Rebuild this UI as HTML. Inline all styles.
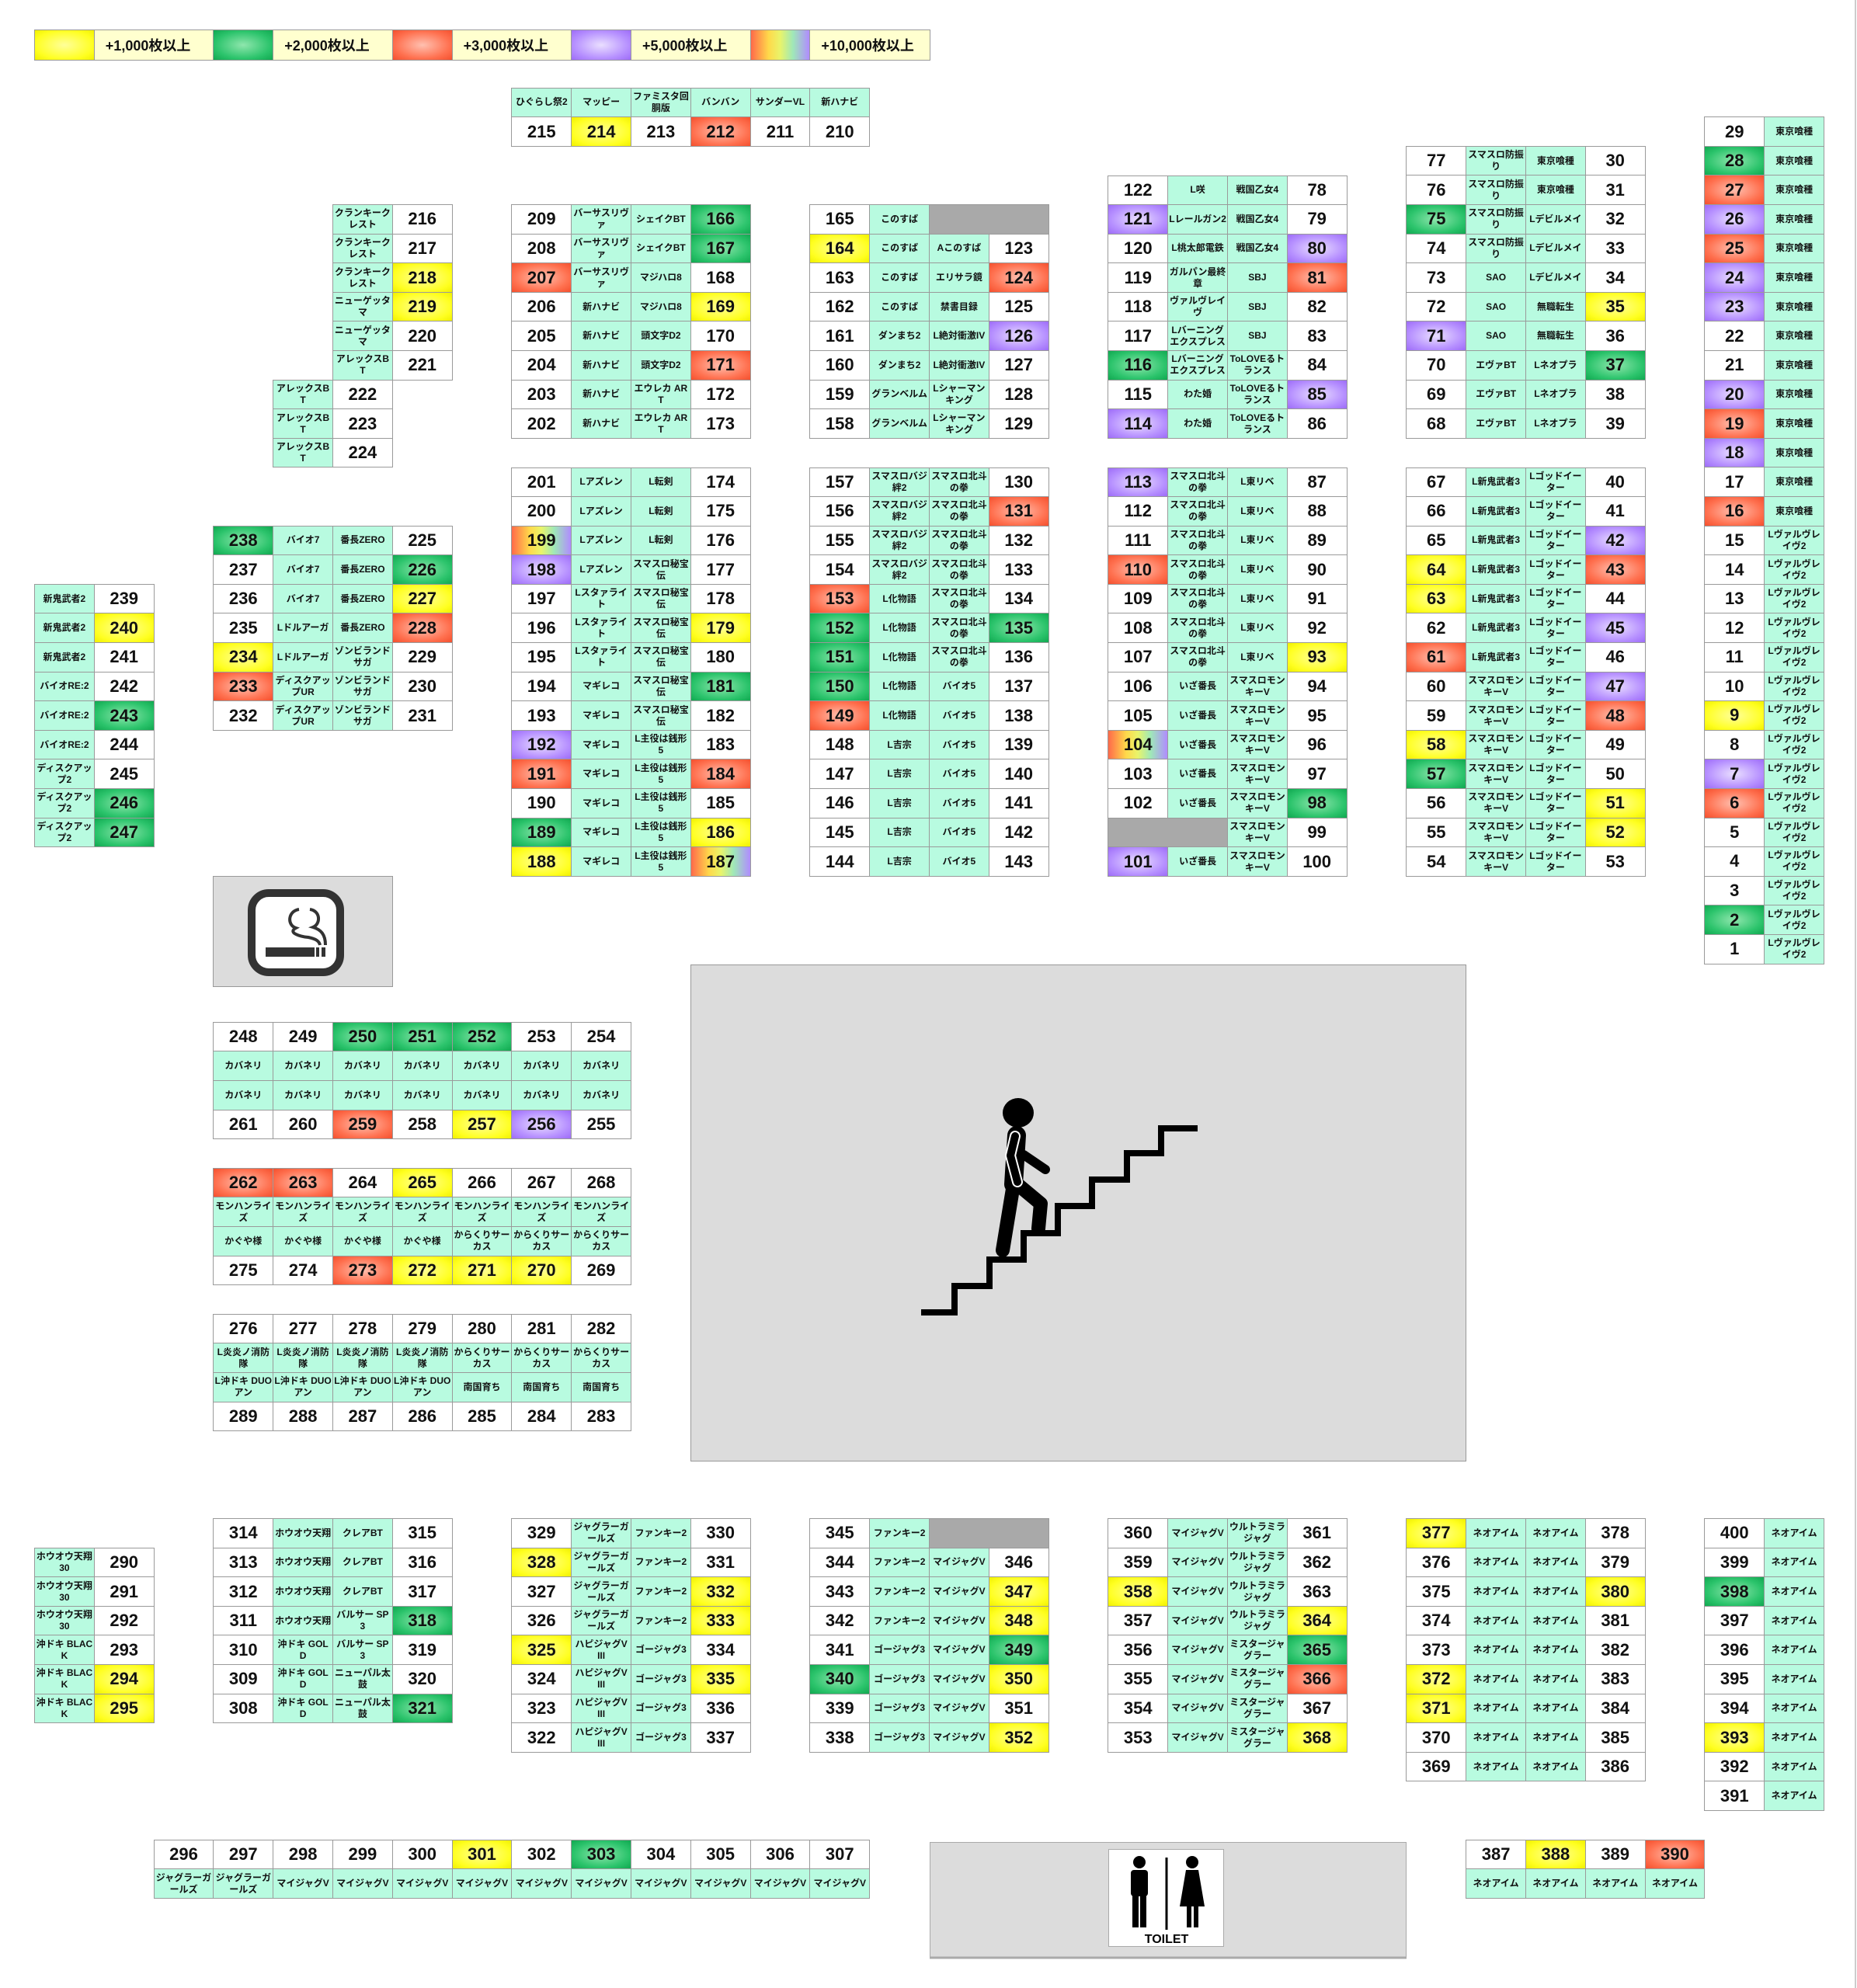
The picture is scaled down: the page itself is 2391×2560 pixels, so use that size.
<!DOCTYPE html>
<html><head><meta charset="utf-8">
<style>
html,body{margin:0;padding:0;background:#fff}
body{width:2391px;height:2560px;position:relative;overflow:hidden;font-family:"Liberation Sans","Noto Sans CJK JP",sans-serif;color:#111}
.b{position:absolute;display:grid;grid-auto-rows:37.6px;border-top:1px solid #9a9a9a;border-left:1px solid #9a9a9a}
.c2{grid-template-columns:repeat(2,76.8px)}
.c4{grid-template-columns:repeat(4,76.8px)}
.c6{grid-template-columns:repeat(6,76.8px)}
.c7{grid-template-columns:repeat(7,76.8px)}
.c12{grid-template-columns:repeat(12,76.8px)}
.b>*{border-right:1px solid #9a9a9a;border-bottom:1px solid #9a9a9a;display:flex;align-items:center;justify-content:center;text-align:center;text-decoration:none;font-style:normal;overflow:hidden;box-sizing:border-box}
b{font-size:22px;background:#fff;font-weight:bold}
s{font-size:12px;background:#b8fbe0;line-height:15px;word-break:break-all;font-weight:bold;padding:0 1px}
u{background:#a9a9a9;grid-column:span 2}
.y{background:radial-gradient(ellipse at center,#ffff9a 0%,#ffff20 70%,#f0f000 100%)}
.g{background:radial-gradient(ellipse at center,#8fe6ad 0%,#2cc46c 65%,#10a850 100%)}
.r{background:radial-gradient(ellipse at center,#ffc0b0 0%,#ff7150 65%,#f4502e 100%)}
.p{background:radial-gradient(ellipse at center,#eadfff 0%,#b690ff 65%,#9d6cf7 100%)}
.w{background:linear-gradient(90deg,#ff6a4a 0%,#ffd84a 30%,#e9f46a 50%,#9fe8b8 72%,#b08cff 100%)}
.lg{position:absolute;left:44px;top:37.5px;display:grid;grid-template-columns:76.8px 153.6px 76.8px 153.6px 76.8px 153.6px 76.8px 153.6px 76.8px 153.6px;grid-auto-rows:38px;border:1px solid #999}
.lg>div{border-right:1px solid #999}
.lt{background:#ffffcf;font-size:18px;font-weight:bold;display:flex;align-items:center;padding-left:14px}
</style></head><body>

<svg width="2391" height="2560" style="position:absolute;left:0;top:0">
<line x1="2389" y1="0" x2="2389" y2="2560" stroke="#ccc" stroke-width="2"/>
<!-- smoking -->
<rect x="274.5" y="1128.5" width="231" height="142" fill="#dcdcdc" stroke="#999"/>
<rect x="324" y="1150" width="114" height="102" rx="22" fill="#fff" stroke="#333" stroke-width="10"/>
<rect x="342" y="1220" width="63" height="12" fill="#333"/>
<rect x="407" y="1220" width="4" height="12" fill="#333"/>
<rect x="414" y="1220" width="5" height="12" fill="#333"/>
<path d="M385 1171 C371 1173 369 1191 381 1195 C370 1201 386 1206 397 1207 C407 1209 411 1212 412 1217" fill="none" stroke="#333" stroke-width="4"/>
<path d="M399 1171 C413 1173 413 1190 403 1194 C413 1197 419 1203 419 1217" fill="none" stroke="#333" stroke-width="4"/>
<!-- stairs -->
<rect x="889.5" y="1242.5" width="998" height="639" fill="#dcdcdc" stroke="#999"/>
<polyline points="1186,1690 1229,1690 1229,1656 1274,1656 1274,1622 1318,1622 1318,1588 1362,1588 1362,1553 1406,1553 1406,1519 1451,1519 1451,1485 1495,1485 1495,1453 1542,1453" fill="none" stroke="#000" stroke-width="8"/>
<ellipse cx="1311" cy="1433" rx="20" ry="19" fill="#000"/>
<line x1="1309" y1="1462" x2="1305" y2="1525" stroke="#000" stroke-width="24" stroke-linecap="round"/>
<line x1="1305" y1="1525" x2="1291" y2="1610" stroke="#000" stroke-width="18" stroke-linecap="round"/>
<polyline points="1310,1525 1340,1550 1337,1582" fill="none" stroke="#000" stroke-width="18" stroke-linecap="round" stroke-linejoin="round"/>
<line x1="1318" y1="1487" x2="1346" y2="1506" stroke="#000" stroke-width="12" stroke-linecap="round"/>
<polyline points="1307,1463 1301,1488 1310,1522" fill="none" stroke="#fff" stroke-width="14" stroke-linecap="round" stroke-linejoin="round"/>
<polyline points="1307,1463 1301,1488 1310,1522" fill="none" stroke="#000" stroke-width="10" stroke-linecap="round" stroke-linejoin="round"/>
<!-- toilet -->
<rect x="1197.5" y="2372.5" width="613" height="149" fill="#dcdcdc" stroke="#aaa"/>
<line x1="1197" y1="2521" x2="1811" y2="2521" stroke="#aaa" stroke-width="3"/>
<rect x="1427.5" y="2381.5" width="148" height="125" fill="#fff" stroke="#aaa"/>
<circle cx="1467" cy="2398" r="8" fill="#000"/>
<rect x="1456" y="2408" width="22" height="34" rx="4" fill="#000"/>
<rect x="1458" y="2440" width="8" height="42" fill="#000"/>
<rect x="1468" y="2440" width="8" height="42" fill="#000"/>
<line x1="1502" y1="2392" x2="1502" y2="2485" stroke="#000" stroke-width="3"/>
<circle cx="1535" cy="2398" r="8" fill="#000"/>
<polygon points="1527,2408 1543,2408 1551,2455 1519,2455" fill="#000"/>
<rect x="1528" y="2455" width="6" height="27" fill="#000"/>
<rect x="1537" y="2455" width="6" height="27" fill="#000"/>
<text x="1502" y="2502" font-family="Liberation Sans, sans-serif" font-weight="bold" font-size="16" text-anchor="middle">TOILET</text>
</svg>

<div class="lg">
<div class="y"></div><div class="lt">+1,000枚以上</div>
<div class="g"></div><div class="lt">+2,000枚以上</div>
<div class="r"></div><div class="lt">+3,000枚以上</div>
<div class="p"></div><div class="lt">+5,000枚以上</div>
<div class="w"></div><div class="lt" style="border-right:none">+10,000枚以上</div>
</div>

<div class="b c6" style="left:658.4px;top:112.7px">
<s>ひぐらし祭2</s><s>マッピー</s><s>ファミスタ回胴版</s><s>バンバン</s><s>サンダーVL</s><s>新ハナビ</s>
<b>215</b><b class="y">214</b><b>213</b><b class="r">212</b><b>211</b><b>210</b>
</div>

<div class="b c2" style="left:428px;top:263.1px">
<s>クランキークレスト</s><b>216</b>
<s>クランキークレスト</s><b>217</b>
<s>クランキークレスト</s><b class="y">218</b>
<s>ニューゲッタマ</s><b class="y">219</b>
<s>ニューゲッタマ</s><b>220</b>
<s>アレックスBT</s><b>221</b>
</div>
<div class="b c2" style="left:351.2px;top:488.7px">
<s>アレックスBT</s><b>222</b>
<s>アレックスBT</s><b>223</b>
<s>アレックスBT</s><b>224</b>
</div>

<div class="b c4" style="left:658.4px;top:263.1px">
<b>209</b><s>バーサスリヴァ</s><s>シェイクBT</s><b class="g">166</b>
<b>208</b><s>バーサスリヴァ</s><s>シェイクBT</s><b class="g">167</b>
<b class="r">207</b><s>バーサスリヴァ</s><s>マジハロ8</s><b>168</b>
<b>206</b><s>新ハナビ</s><s>マジハロ8</s><b class="y">169</b>
<b>205</b><s>新ハナビ</s><s>頭文字D2</s><b>170</b>
<b>204</b><s>新ハナビ</s><s>頭文字D2</s><b class="r">171</b>
<b>203</b><s>新ハナビ</s><s>エウレカ ART</s><b>172</b>
<b>202</b><s>新ハナビ</s><s>エウレカ ART</s><b>173</b>
</div>

<div class="b c4" style="left:1042.4px;top:263.1px">
<b>165</b><s>このすば</s><u></u>
<b class="y">164</b><s>このすば</s><s>Aこのすば</s><b>123</b>
<b>163</b><s>このすば</s><s>エリサラ鏡</s><b class="r">124</b>
<b>162</b><s>このすば</s><s>禁書目録</s><b>125</b>
<b>161</b><s>ダンまち2</s><s>L絶対衝激IV</s><b class="p">126</b>
<b>160</b><s>ダンまち2</s><s>L絶対衝激IV</s><b>127</b>
<b>159</b><s>グランベルム</s><s>Lシャーマンキング</s><b>128</b>
<b>158</b><s>グランベルム</s><s>Lシャーマンキング</s><b>129</b>
</div>

<div class="b c4" style="left:1426.4px;top:225.5px">
<b>122</b><s>L咲</s><s>戦国乙女4</s><b>78</b>
<b class="p">121</b><s>Lレールガン2</s><s>戦国乙女4</s><b>79</b>
<b>120</b><s>L桃太郎電鉄</s><s>戦国乙女4</s><b class="p">80</b>
<b>119</b><s>ガルパン最終章</s><s>SBJ</s><b class="r">81</b>
<b>118</b><s>ヴァルヴレイヴ</s><s>SBJ</s><b>82</b>
<b>117</b><s>Lバーニングエクスプレス</s><s>SBJ</s><b>83</b>
<b class="g">116</b><s>Lバーニングエクスプレス</s><s>ToLOVEるトランス</s><b>84</b>
<b>115</b><s>わた婚</s><s>ToLOVEるトランス</s><b class="p">85</b>
<b class="p">114</b><s>わた婚</s><s>ToLOVEるトランス</s><b>86</b>
</div>

<div class="b c4" style="left:1810.4px;top:187.9px">
<b>77</b><s>スマスロ防振り</s><s>東京喰種</s><b>30</b>
<b>76</b><s>スマスロ防振り</s><s>東京喰種</s><b>31</b>
<b class="g">75</b><s>スマスロ防振り</s><s>Lデビルメイ</s><b>32</b>
<b>74</b><s>スマスロ防振り</s><s>Lデビルメイ</s><b>33</b>
<b>73</b><s>SAO</s><s>Lデビルメイ</s><b>34</b>
<b>72</b><s>SAO</s><s>無職転生</s><b class="y">35</b>
<b class="p">71</b><s>SAO</s><s>無職転生</s><b>36</b>
<b>70</b><s>エヴァBT</s><s>Lネオプラ</s><b class="g">37</b>
<b>69</b><s>エヴァBT</s><s>Lネオプラ</s><b>38</b>
<b>68</b><s>エヴァBT</s><s>Lネオプラ</s><b>39</b>
</div>

<div class="b c2" style="left:2194.4px;top:150.3px">
<b>29</b><s>東京喰種</s>
<b class="g">28</b><s>東京喰種</s>
<b class="r">27</b><s>東京喰種</s>
<b class="p">26</b><s>東京喰種</s>
<b class="r">25</b><s>東京喰種</s>
<b class="p">24</b><s>東京喰種</s>
<b class="p">23</b><s>東京喰種</s>
<b>22</b><s>東京喰種</s>
<b>21</b><s>東京喰種</s>
<b class="p">20</b><s>東京喰種</s>
<b class="r">19</b><s>東京喰種</s>
<b class="p">18</b><s>東京喰種</s>
<b>17</b><s>東京喰種</s>
<b class="r">16</b><s>東京喰種</s>
<b>15</b><s>Lヴァルヴレイヴ2</s>
<b>14</b><s>Lヴァルヴレイヴ2</s>
<b>13</b><s>Lヴァルヴレイヴ2</s>
<b>12</b><s>Lヴァルヴレイヴ2</s>
<b>11</b><s>Lヴァルヴレイヴ2</s>
<b>10</b><s>Lヴァルヴレイヴ2</s>
<b class="y">9</b><s>Lヴァルヴレイヴ2</s>
<b>8</b><s>Lヴァルヴレイヴ2</s>
<b class="p">7</b><s>Lヴァルヴレイヴ2</s>
<b class="r">6</b><s>Lヴァルヴレイヴ2</s>
<b>5</b><s>Lヴァルヴレイヴ2</s>
<b>4</b><s>Lヴァルヴレイヴ2</s>
<b>3</b><s>Lヴァルヴレイヴ2</s>
<b class="g">2</b><s>Lヴァルヴレイヴ2</s>
<b>1</b><s>Lヴァルヴレイヴ2</s>
</div>

<div class="b c4" style="left:658.4px;top:601.5px">
<b>201</b><s>Lアズレン</s><s>L転剣</s><b>174</b>
<b>200</b><s>Lアズレン</s><s>L転剣</s><b>175</b>
<b class="w">199</b><s>Lアズレン</s><s>L転剣</s><b>176</b>
<b class="p">198</b><s>Lアズレン</s><s>スマスロ秘宝伝</s><b>177</b>
<b>197</b><s>Lスタァライト</s><s>スマスロ秘宝伝</s><b>178</b>
<b>196</b><s>Lスタァライト</s><s>スマスロ秘宝伝</s><b class="y">179</b>
<b>195</b><s>Lスタァライト</s><s>スマスロ秘宝伝</s><b>180</b>
<b>194</b><s>マギレコ</s><s>スマスロ秘宝伝</s><b class="g">181</b>
<b>193</b><s>マギレコ</s><s>スマスロ秘宝伝</s><b>182</b>
<b class="p">192</b><s>マギレコ</s><s>L主役は銭形5</s><b>183</b>
<b class="r">191</b><s>マギレコ</s><s>L主役は銭形5</s><b class="r">184</b>
<b>190</b><s>マギレコ</s><s>L主役は銭形5</s><b>185</b>
<b class="g">189</b><s>マギレコ</s><s>L主役は銭形5</s><b class="y">186</b>
<b class="y">188</b><s>マギレコ</s><s>L主役は銭形5</s><b class="w">187</b>
</div>

<div class="b c4" style="left:1042.4px;top:601.5px">
<b>157</b><s>スマスロバジ絆2</s><s>スマスロ北斗の拳</s><b>130</b>
<b>156</b><s>スマスロバジ絆2</s><s>スマスロ北斗の拳</s><b class="r">131</b>
<b>155</b><s>スマスロバジ絆2</s><s>スマスロ北斗の拳</s><b>132</b>
<b>154</b><s>スマスロバジ絆2</s><s>スマスロ北斗の拳</s><b>133</b>
<b class="r">153</b><s>L化物語</s><s>スマスロ北斗の拳</s><b>134</b>
<b class="g">152</b><s>L化物語</s><s>スマスロ北斗の拳</s><b class="g">135</b>
<b class="g">151</b><s>L化物語</s><s>スマスロ北斗の拳</s><b>136</b>
<b class="g">150</b><s>L化物語</s><s>バイオ5</s><b>137</b>
<b class="r">149</b><s>L化物語</s><s>バイオ5</s><b>138</b>
<b>148</b><s>L吉宗</s><s>バイオ5</s><b>139</b>
<b>147</b><s>L吉宗</s><s>バイオ5</s><b>140</b>
<b>146</b><s>L吉宗</s><s>バイオ5</s><b>141</b>
<b>145</b><s>L吉宗</s><s>バイオ5</s><b>142</b>
<b>144</b><s>L吉宗</s><s>バイオ5</s><b>143</b>
</div>

<div class="b c4" style="left:1426.4px;top:601.5px">
<b class="p">113</b><s>スマスロ北斗の拳</s><s>L東リベ</s><b>87</b>
<b>112</b><s>スマスロ北斗の拳</s><s>L東リベ</s><b>88</b>
<b>111</b><s>スマスロ北斗の拳</s><s>L東リベ</s><b>89</b>
<b class="r">110</b><s>スマスロ北斗の拳</s><s>L東リベ</s><b>90</b>
<b>109</b><s>スマスロ北斗の拳</s><s>L東リベ</s><b>91</b>
<b>108</b><s>スマスロ北斗の拳</s><s>L東リベ</s><b>92</b>
<b>107</b><s>スマスロ北斗の拳</s><s>L東リベ</s><b class="y">93</b>
<b>106</b><s>いざ番長</s><s>スマスロモンキーV</s><b>94</b>
<b>105</b><s>いざ番長</s><s>スマスロモンキーV</s><b>95</b>
<b class="w">104</b><s>いざ番長</s><s>スマスロモンキーV</s><b>96</b>
<b>103</b><s>いざ番長</s><s>スマスロモンキーV</s><b>97</b>
<b>102</b><s>いざ番長</s><s>スマスロモンキーV</s><b class="g">98</b>
<u></u><s>スマスロモンキーV</s><b>99</b>
<b class="p">101</b><s>いざ番長</s><s>スマスロモンキーV</s><b>100</b>
</div>

<div class="b c4" style="left:1810.4px;top:601.5px">
<b>67</b><s>L新鬼武者3</s><s>Lゴッドイーター</s><b>40</b>
<b>66</b><s>L新鬼武者3</s><s>Lゴッドイーター</s><b>41</b>
<b>65</b><s>L新鬼武者3</s><s>Lゴッドイーター</s><b class="p">42</b>
<b class="y">64</b><s>L新鬼武者3</s><s>Lゴッドイーター</s><b class="r">43</b>
<b class="y">63</b><s>L新鬼武者3</s><s>Lゴッドイーター</s><b>44</b>
<b>62</b><s>L新鬼武者3</s><s>Lゴッドイーター</s><b class="p">45</b>
<b class="r">61</b><s>L新鬼武者3</s><s>Lゴッドイーター</s><b>46</b>
<b>60</b><s>スマスロモンキーV</s><s>Lゴッドイーター</s><b class="p">47</b>
<b>59</b><s>スマスロモンキーV</s><s>Lゴッドイーター</s><b class="r">48</b>
<b class="y">58</b><s>スマスロモンキーV</s><s>Lゴッドイーター</s><b>49</b>
<b class="g">57</b><s>スマスロモンキーV</s><s>Lゴッドイーター</s><b>50</b>
<b>56</b><s>スマスロモンキーV</s><s>Lゴッドイーター</s><b class="y">51</b>
<b>55</b><s>スマスロモンキーV</s><s>Lゴッドイーター</s><b class="y">52</b>
<b>54</b><s>スマスロモンキーV</s><s>Lゴッドイーター</s><b>53</b>
</div>

<div class="b c4" style="left:274.4px;top:676.7px">
<b class="g">238</b><s>バイオ7</s><s>番長ZERO</s><b>225</b>
<b>237</b><s>バイオ7</s><s>番長ZERO</s><b class="g">226</b>
<b>236</b><s>バイオ7</s><s>番長ZERO</s><b class="y">227</b>
<b>235</b><s>Lドルアーガ</s><s>番長ZERO</s><b class="r">228</b>
<b class="y">234</b><s>Lドルアーガ</s><s>ゾンビランドサガ</s><b>229</b>
<b class="r">233</b><s>ディスクアップUR</s><s>ゾンビランドサガ</s><b>230</b>
<b>232</b><s>ディスクアップUR</s><s>ゾンビランドサガ</s><b>231</b>
</div>

<div class="b c2" style="left:44px;top:751.9px">
<s>新鬼武者2</s><b>239</b>
<s>新鬼武者2</s><b class="y">240</b>
<s>新鬼武者2</s><b>241</b>
<s>バイオRE:2</s><b>242</b>
<s>バイオRE:2</s><b class="g">243</b>
<s>バイオRE:2</s><b>244</b>
<s>ディスクアップ2</s><b>245</b>
<s>ディスクアップ2</s><b class="g">246</b>
<s>ディスクアップ2</s><b class="g">247</b>
</div>

<div class="b c7" style="left:274.4px;top:1315.9px">
<b>248</b><b>249</b><b class="g">250</b><b class="g">251</b><b class="g">252</b><b>253</b><b>254</b>
<s>カバネリ</s><s>カバネリ</s><s>カバネリ</s><s>カバネリ</s><s>カバネリ</s><s>カバネリ</s><s>カバネリ</s>
<s>カバネリ</s><s>カバネリ</s><s>カバネリ</s><s>カバネリ</s><s>カバネリ</s><s>カバネリ</s><s>カバネリ</s>
<b>261</b><b>260</b><b class="r">259</b><b>258</b><b class="y">257</b><b class="p">256</b><b>255</b>
</div>

<div class="b c7" style="left:274.4px;top:1503.9px">
<b class="r">262</b><b class="r">263</b><b>264</b><b class="y">265</b><b>266</b><b>267</b><b>268</b>
<s>モンハンライズ</s><s>モンハンライズ</s><s>モンハンライズ</s><s>モンハンライズ</s><s>モンハンライズ</s><s>モンハンライズ</s><s>モンハンライズ</s>
<s>かぐや様</s><s>かぐや様</s><s>かぐや様</s><s>かぐや様</s><s>からくりサーカス</s><s>からくりサーカス</s><s>からくりサーカス</s>
<b>275</b><b>274</b><b class="r">273</b><b class="y">272</b><b class="y">271</b><b class="y">270</b><b>269</b>
</div>

<div class="b c7" style="left:274.4px;top:1691.9px">
<b>276</b><b>277</b><b>278</b><b>279</b><b>280</b><b>281</b><b>282</b>
<s>L炎炎ノ消防隊</s><s>L炎炎ノ消防隊</s><s>L炎炎ノ消防隊</s><s>L炎炎ノ消防隊</s><s>からくりサーカス</s><s>からくりサーカス</s><s>からくりサーカス</s>
<s>L沖ドキ DUOアン</s><s>L沖ドキ DUOアン</s><s>L沖ドキ DUOアン</s><s>L沖ドキ DUOアン</s><s>南国育ち</s><s>南国育ち</s><s>南国育ち</s>
<b>289</b><b>288</b><b>287</b><b>286</b><b>285</b><b>284</b><b>283</b>
</div>

<div class="b c2" style="left:44px;top:1992.7px">
<s>ホウオウ天翔30</s><b>290</b>
<s>ホウオウ天翔30</s><b>291</b>
<s>ホウオウ天翔30</s><b>292</b>
<s>沖ドキ BLACK</s><b>293</b>
<s>沖ドキ BLACK</s><b class="y">294</b>
<s>沖ドキ BLACK</s><b class="y">295</b>
</div>

<div class="b c4" style="left:274.4px;top:1955.1px">
<b>314</b><s>ホウオウ天翔</s><s>クレアBT</s><b>315</b>
<b>313</b><s>ホウオウ天翔</s><s>クレアBT</s><b>316</b>
<b>312</b><s>ホウオウ天翔</s><s>クレアBT</s><b>317</b>
<b>311</b><s>ホウオウ天翔</s><s>バルサー SP3</s><b class="g">318</b>
<b>310</b><s>沖ドキ GOLD</s><s>バルサー SP3</s><b>319</b>
<b>309</b><s>沖ドキ GOLD</s><s>ニューパル太鼓</s><b>320</b>
<b>308</b><s>沖ドキ GOLD</s><s>ニューパル太鼓</s><b class="g">321</b>
</div>

<div class="b c4" style="left:658.4px;top:1955.1px">
<b>329</b><s>ジャグラーガールズ</s><s>ファンキー2</s><b>330</b>
<b class="y">328</b><s>ジャグラーガールズ</s><s>ファンキー2</s><b>331</b>
<b>327</b><s>ジャグラーガールズ</s><s>ファンキー2</s><b class="y">332</b>
<b>326</b><s>ジャグラーガールズ</s><s>ファンキー2</s><b class="y">333</b>
<b class="y">325</b><s>ハピジャグV III</s><s>ゴージャグ3</s><b>334</b>
<b>324</b><s>ハピジャグV III</s><s>ゴージャグ3</s><b class="y">335</b>
<b>323</b><s>ハピジャグV III</s><s>ゴージャグ3</s><b>336</b>
<b>322</b><s>ハピジャグV III</s><s>ゴージャグ3</s><b>337</b>
</div>

<div class="b c4" style="left:1042.4px;top:1955.1px">
<b>345</b><s>ファンキー2</s><u></u>
<b>344</b><s>ファンキー2</s><s>マイジャグV</s><b>346</b>
<b>343</b><s>ファンキー2</s><s>マイジャグV</s><b class="y">347</b>
<b>342</b><s>ファンキー2</s><s>マイジャグV</s><b class="y">348</b>
<b>341</b><s>ゴージャグ3</s><s>マイジャグV</s><b class="g">349</b>
<b class="g">340</b><s>ゴージャグ3</s><s>マイジャグV</s><b class="y">350</b>
<b>339</b><s>ゴージャグ3</s><s>マイジャグV</s><b>351</b>
<b>338</b><s>ゴージャグ3</s><s>マイジャグV</s><b class="y">352</b>
</div>

<div class="b c4" style="left:1426.4px;top:1955.1px">
<b>360</b><s>マイジャグV</s><s>ウルトラミラジャグ</s><b>361</b>
<b>359</b><s>マイジャグV</s><s>ウルトラミラジャグ</s><b>362</b>
<b class="y">358</b><s>マイジャグV</s><s>ウルトラミラジャグ</s><b>363</b>
<b>357</b><s>マイジャグV</s><s>ウルトラミラジャグ</s><b class="y">364</b>
<b>356</b><s>マイジャグV</s><s>ミスタージャグラー</s><b class="g">365</b>
<b>355</b><s>マイジャグV</s><s>ミスタージャグラー</s><b class="r">366</b>
<b>354</b><s>マイジャグV</s><s>ミスタージャグラー</s><b>367</b>
<b>353</b><s>マイジャグV</s><s>ミスタージャグラー</s><b class="y">368</b>
</div>

<div class="b c4" style="left:1810.4px;top:1955.1px">
<b class="y">377</b><s>ネオアイム</s><s>ネオアイム</s><b>378</b>
<b>376</b><s>ネオアイム</s><s>ネオアイム</s><b>379</b>
<b>375</b><s>ネオアイム</s><s>ネオアイム</s><b class="y">380</b>
<b>374</b><s>ネオアイム</s><s>ネオアイム</s><b>381</b>
<b>373</b><s>ネオアイム</s><s>ネオアイム</s><b>382</b>
<b class="y">372</b><s>ネオアイム</s><s>ネオアイム</s><b>383</b>
<b class="y">371</b><s>ネオアイム</s><s>ネオアイム</s><b>384</b>
<b>370</b><s>ネオアイム</s><s>ネオアイム</s><b>385</b>
<b>369</b><s>ネオアイム</s><s>ネオアイム</s><b>386</b>
</div>

<div class="b c2" style="left:2194.4px;top:1955.1px">
<b>400</b><s>ネオアイム</s>
<b>399</b><s>ネオアイム</s>
<b class="g">398</b><s>ネオアイム</s>
<b>397</b><s>ネオアイム</s>
<b>396</b><s>ネオアイム</s>
<b>395</b><s>ネオアイム</s>
<b>394</b><s>ネオアイム</s>
<b class="y">393</b><s>ネオアイム</s>
<b>392</b><s>ネオアイム</s>
<b>391</b><s>ネオアイム</s>
</div>

<div class="b c12" style="left:197.6px;top:2368.7px">
<b>296</b><b>297</b><b>298</b><b>299</b><b>300</b><b class="y">301</b><b>302</b><b class="g">303</b><b>304</b><b>305</b><b>306</b><b>307</b>
<s>ジャグラーガールズ</s><s>ジャグラーガールズ</s><s>マイジャグV</s><s>マイジャグV</s><s>マイジャグV</s><s>マイジャグV</s><s>マイジャグV</s><s>マイジャグV</s><s>マイジャグV</s><s>マイジャグV</s><s>マイジャグV</s><s>マイジャグV</s>
</div>

<div class="b c4" style="left:1887.2px;top:2368.7px">
<b>387</b><b class="y">388</b><b>389</b><b class="r">390</b>
<s>ネオアイム</s><s>ネオアイム</s><s>ネオアイム</s><s>ネオアイム</s>
</div>

</body></html>
